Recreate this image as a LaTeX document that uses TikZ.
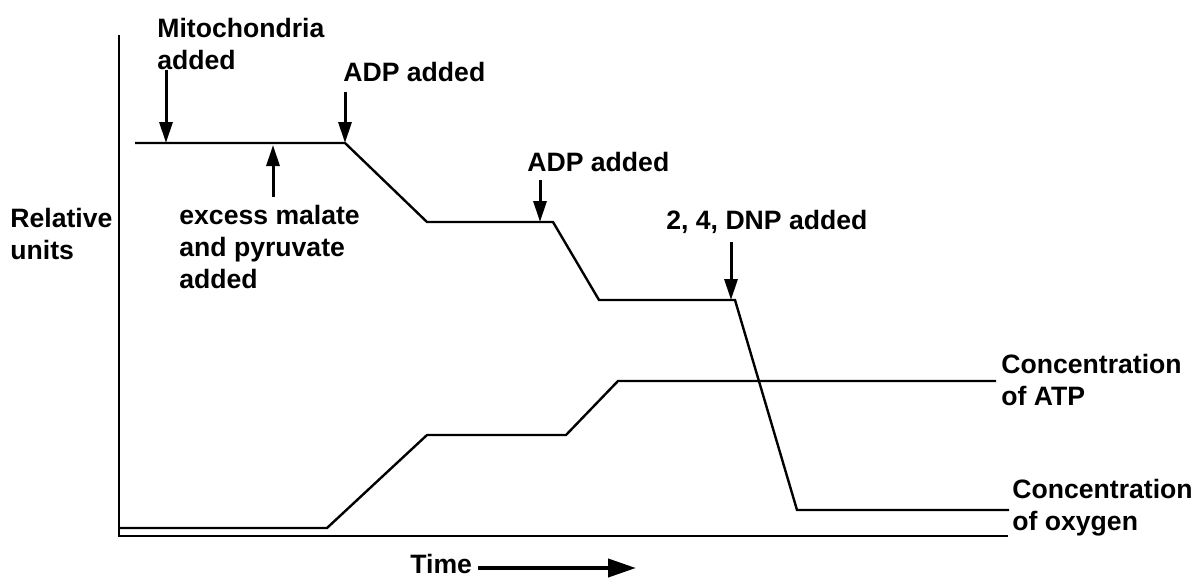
\documentclass[tikz,border=0pt]{standalone}
\usepackage{fontspec}
\setmainfont{Liberation Sans}
\usetikzlibrary{arrows.meta}

\begin{document}
\begin{tikzpicture}[x=0.5pt,y=-0.5pt,
  lbl/.style={font=\bfseries\fontsize{13.3}{16}\selectfont, align=left, inner sep=0pt, anchor=west},
  curve/.style={line width=1.2pt, line join=miter},
  pointer/.style={line width=1.5pt, -{Triangle[length=10.5pt,width=6.5pt]}}]

\useasboundingbox (0,0) rectangle (1195,579);

% axes
\coordinate (top) at (119,35);
\coordinate (orig) at (119,536);
\coordinate (xend) at (1008,536);
\draw [curve] (top) -- (orig) -- (xend);

% oxygen
\coordinate (o1) at (135,143);
\coordinate (o2) at (345,143);
\coordinate (o3) at (427,222);
\coordinate (o4) at (553,222);
\coordinate (o5) at (599,300);
\coordinate (o6) at (735,300);
\coordinate (o7) at (797,510);
\coordinate (o8) at (1009,510);
\draw [curve] (o1) -- (o2) -- (o3) -- (o4) -- (o5) -- (o6) -- (o7) -- (o8);

% ATP
\coordinate (t1) at (119,528);
\coordinate (t2) at (327,528);
\coordinate (t3) at (427,435);
\coordinate (t4) at (566,435);
\coordinate (t5) at (618,381);
\coordinate (t6) at (996,381);
\draw [curve] (t1) -- (t2) -- (t3) -- (t4) -- (t5) -- (t6);

% labels
\node [lbl] (mito) at (157,44) {Mitochondria\\added};
\node [lbl] (adpa) at (343,72) {ADP added};
\node [lbl] (adpb) at (527,162) {ADP added};
\node [lbl] (dnp) at (666,222) {2, 4, DNP added};
\node [lbl] (excess) at (179,247) {excess malate\\and pyruvate\\added};
\node [lbl] (rel) at (10,234) {Relative\\units};
\node [lbl] (atp) at (1001,380) {Concentration\\of ATP};
\node [lbl] (oxy) at (1012,508) {Concentration\\of oxygen};
\node [lbl] (time) at (410,564) {Time};

% arrows
\coordinate (m) at (166,143);
\coordinate (e) at (273,145);
\coordinate (eb) at (273,197);
\coordinate (a2) at (540,222);
\coordinate (d) at (731,300);
\coordinate (ts) at (478,568);
\coordinate (te) at (636,568);
\draw [pointer] (mito.south -| m) -- (m);
\draw [pointer] ([yshift=-5pt]adpa.south -| o2) -- (o2);
\draw [pointer] ([yshift=-4pt]adpb.south -| a2) -- (a2);
\draw [pointer] ([yshift=-4pt]dnp.south -| d) -- (d);
\draw [pointer] (eb) -- (e);
\draw [line width=2pt, -{Triangle[length=14pt,width=9pt]}] (ts) -- (te);

\end{tikzpicture}
\end{document}
